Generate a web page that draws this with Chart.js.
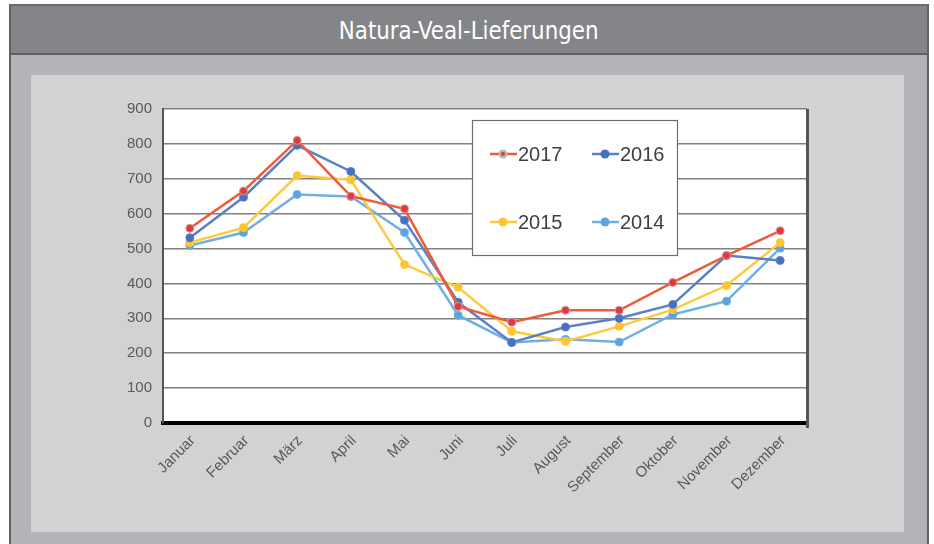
<!DOCTYPE html>
<html><head><meta charset="utf-8">
<script src="https://cdn.jsdelivr.net/npm/chart.js@4.4.1/dist/chart.umd.min.js"></script>
<style>
html,body{margin:0;padding:0;background:#fff;width:934px;height:544px;overflow:hidden;}
#frame{position:absolute;left:9px;top:4px;width:920px;height:542px;background:#b3b4b7;border-left:2px solid #5f6063;border-right:2px solid #5f6063;border-top:2px solid #6a6b6e;box-sizing:border-box;}
#bar{position:absolute;left:11px;top:6px;width:916px;height:49px;background:#848588;border-bottom:2px solid #5e5f62;box-sizing:border-box;}
#title{position:absolute;left:11px;top:6px;width:916px;height:49px;line-height:49px;text-align:center;color:#fff;font-family:"Liberation Sans Narrow","DejaVu Sans Condensed","Liberation Sans",sans-serif;font-size:25px;}
#title span{display:inline-block;transform:scaleX(0.95);}
#panel{position:absolute;left:31px;top:75px;width:873px;height:457px;background:#d1d2d4;}
#wrap{position:absolute;left:0;top:0;width:934px;height:544px;}
</style></head>
<body>
<div id="frame"></div>
<div id="bar"></div>
<div id="title"><span>Natura-Veal-Lieferungen</span></div>
<div id="panel"></div>
<div id="wrap"><canvas id="c" width="934" height="544"></canvas></div>
<script>
const months = ["Januar","Februar","März","April","Mai","Juni","Juli","August","September","Oktober","November","Dezember"];
const labels = ["2017","2016","2015","2014"];
const s2017 = [558,665,810,650,614,334,289,323,323,403,480,551];
const s2016 = [531,647,796,721,581,346,231,275,300,340,480,466];
const s2015 = [517,560,709,697,454,389,263,234,277,325,394,517];
const s2014 = [509,546,655,649,546,309,231,240,232,311,349,501];
const yMin = 0, yMax = 900, yStep = 100;

const lineColors = ["#ef5a3a","#5b80c6","#fcca3c","#6fb0e2"];
const pointColors = ["#e03a3e","#4470c0","#fdc431","#5ea4dc"];
const pointBorders = ["#d89a9a","#5b80c6","#fcca3c","#6fb0e2"];
const series = [s2017, s2016, s2015, s2014];

const datasets = series.map((d,i)=>({
  label: labels[i], data: d,
  borderColor: lineColors[i], backgroundColor: pointColors[i],
  pointBackgroundColor: pointColors[i], pointBorderColor: pointBorders[i],
  pointRadius: 4, pointBorderWidth: 1, borderWidth: 2.5, tension: 0, fill: false
}));

const areaPlugin = {
  id: 'area',
  beforeDraw(chart){
    const {ctx, chartArea:a} = chart;
    ctx.save(); ctx.fillStyle = '#fff';
    ctx.fillRect(a.left, a.top, a.right-a.left, a.bottom-a.top);
    ctx.restore();
  },
  afterDraw(chart){
    const {ctx, chartArea:a} = chart;
    ctx.save();
    ctx.strokeStyle = '#555'; ctx.lineWidth = 3;
    ctx.beginPath(); ctx.moveTo(a.right+0.5, a.top); ctx.lineTo(a.right+0.5, a.bottom+5); ctx.stroke();
    ctx.restore();
  }
};

const legendPlugin = {
  id: 'boxLegend',
  afterDatasetsDraw(chart){
    const {ctx} = chart;
    const bx = 472, by = 120, bw = 205, bh = 135;
    ctx.save();
    ctx.fillStyle = '#fff'; ctx.fillRect(bx, by, bw, bh);
    ctx.strokeStyle = '#6e6e6e'; ctx.lineWidth = 1.2; ctx.strokeRect(bx+0.5, by+0.5, bw, bh);
    const cols = [490, 592], rows = [154, 222];
    chart.data.datasets.forEach((ds,i)=>{
      const x = cols[i%2], y = rows[Math.floor(i/2)];
      ctx.strokeStyle = ds.borderColor; ctx.lineWidth = 2.5;
      ctx.beginPath(); ctx.moveTo(x, y); ctx.lineTo(x+27, y); ctx.stroke();
      ctx.beginPath(); ctx.arc(x+13, y, 4.5, 0, Math.PI*2);
      ctx.fillStyle = i===0 ? '#b8b8b8' : ds.pointBackgroundColor; ctx.fill();
      if(i===0){ ctx.beginPath(); ctx.arc(x+13, y, 2, 0, Math.PI*2); ctx.fillStyle = ds.pointBackgroundColor; ctx.fill(); }
      ctx.fillStyle = '#404040'; ctx.font = '20px "Liberation Sans", sans-serif';
      ctx.textBaseline = 'middle'; ctx.textAlign = 'left';
      ctx.fillText(ds.label, x+28, y+1);
    });
    ctx.restore();
  }
};

new Chart(document.getElementById('c'), {
  type: 'line',
  data: { labels: months, datasets },
  options: {
    responsive: false, animation: false, devicePixelRatio: 1,
    layout: { padding: { top: 109, right: 127, bottom: 0, left: 0 } },
    plugins: { legend: { display: false }, tooltip: { enabled: false }, title: { display: false } },
    scales: {
      x: {
        offset: true,
        grid: { display: false, drawTicks: false },
        border: { display: true, color: '#000', width: 4 },
        ticks: { color: '#595959', font: { family: '"Liberation Sans", sans-serif', size: 15 }, minRotation: 45, maxRotation: 45, padding: 9, labelOffset: 3, autoSkip: false },
        afterFit(s){ s.height = 121; }
      },
      y: {
        min: yMin, max: yMax,
        grid: { color: '#808080', lineWidth: 1.5, drawTicks: false },
        border: { display: true, color: '#555', width: 2 },
        ticks: { stepSize: yStep, color: '#595959', font: { family: '"Liberation Sans", sans-serif', size: 15 }, padding: 11 },
        afterFit(s){ s.width = 163; }
      }
    }
  },
  plugins: [areaPlugin, legendPlugin]
});
</script>
</body></html>
